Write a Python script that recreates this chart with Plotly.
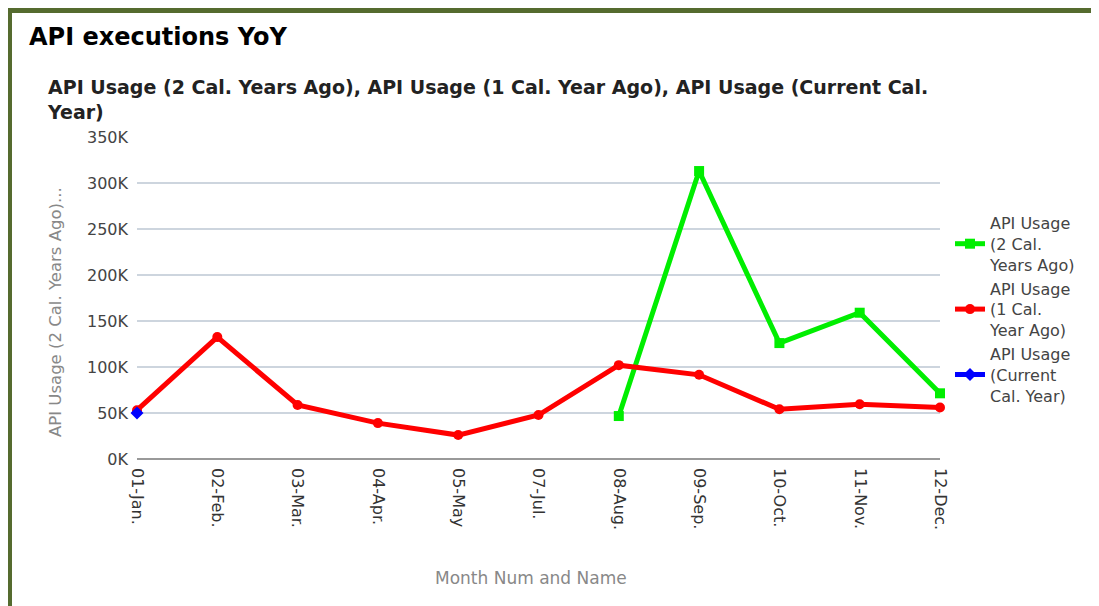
import plotly.graph_objects as go

months = ["01-Jan.", "02-Feb.", "03-Mar.", "04-Apr.", "05-May", "07-Jul.",
          "08-Aug.", "09-Sep.", "10-Oct.", "11-Nov.", "12-Dec."]
two_years_ago = [None, None, None, None, None, None, 46700, 313000, 126000, 159000, 71400]
one_year_ago = [53000, 132500, 58700, 39000, 26000, 47800, 102000, 91500, 54000, 59500, 56000]
current_year = [50000, None, None, None, None, None, None, None, None, None, None]
y_ticks = [0, 50000, 100000, 150000, 200000, 250000, 300000, 350000]
y_tick_labels = ["0K", "50K", "100K", "150K", "200K", "250K", "300K", "350K"]

# the page puts the figure 8px in from the top-left corner
OFF = 8
W, H = 1099 - OFF, 606 - OFF
L, R, T, B = 137 - OFF, 940 - OFF, 137 - OFF, 459 - OFF


def px(x):
    return (x - OFF - L) / (R - L)


def py(y):
    return (B - (y - OFF)) / (B - T)


font = "DejaVu Sans, Liberation Sans, Arial, sans-serif"

fig = go.Figure()
fig.add_trace(go.Scatter(
    x=months, y=two_years_ago, mode="lines+markers",
    name="API Usage<br>(2 Cal.<br>Years Ago)",
    line=dict(color="#00ee00", width=5),
    marker=dict(symbol="square", size=10, color="#00ee00"),
    cliponaxis=False))
fig.add_trace(go.Scatter(
    x=months, y=one_year_ago, mode="lines+markers",
    name="API Usage<br>(1 Cal.<br>Year Ago)",
    line=dict(color="#ff0000", width=5),
    marker=dict(symbol="circle", size=10, color="#ff0000"),
    cliponaxis=False))
fig.add_trace(go.Scatter(
    x=months, y=current_year, mode="lines+markers",
    name="API Usage<br>(Current<br>Cal. Year)",
    line=dict(color="#0000ff", width=5),
    marker=dict(symbol="diamond", size=10, color="#0000ff"),
    cliponaxis=False))

fig.update_layout(
    width=W, height=H,
    margin=dict(l=L, r=W - R, t=T, b=H - B),
    paper_bgcolor="white", plot_bgcolor="white",
    font=dict(family=font, size=15, color="#333333"),
    showlegend=True,
    legend=dict(x=px(950), y=py(206), xanchor="left", yanchor="top",
                font=dict(family=font, size=16, color="#444444"),
                tracegroupgap=0, itemwidth=30),
    xaxis=dict(type="category", range=[0, 10], tickangle=90,
               showgrid=False, zeroline=False, showline=False, ticks="",
               ticklabelstandoff=8,
               tickfont=dict(family=font, size=16, color="#333333")),
    yaxis=dict(range=[0, 350000], tickvals=y_ticks, ticktext=y_tick_labels,
               showgrid=True, gridcolor="#cdd5de", gridwidth=1.5,
               zeroline=True, zerolinecolor="#999999", zerolinewidth=1.5,
               showline=False, ticks="", ticklabelstandoff=8,
               tickfont=dict(family=font, size=16, color="#444444")),
)

fig.add_annotation(text="<b>API executions YoY</b>", xref="paper", yref="paper",
                   x=px(27), y=py(37), xanchor="left", yanchor="middle",
                   showarrow=False, font=dict(family=font, size=24, color="#000000"))
fig.add_annotation(text="<b>API Usage (2 Cal. Years Ago), API Usage (1 Cal. Year Ago), API Usage (Current Cal.<br>Year)</b>",
                   xref="paper", yref="paper", x=px(45), y=py(74), xanchor="left", yanchor="top",
                   align="left", showarrow=False,
                   font=dict(family=font, size=19, color="#222222"))
# axis titles
fig.add_annotation(text="API Usage (2 Cal. Years Ago)...", xref="paper", yref="paper",
                   x=px(55), y=py(312), xanchor="center", yanchor="middle",
                   textangle=-90, showarrow=False,
                   font=dict(family=font, size=16.5, color="#888888"))
fig.add_annotation(text="Month Num and Name", xref="paper", yref="paper",
                   x=px(531), y=py(578), xanchor="center", yanchor="middle",
                   showarrow=False,
                   font=dict(family=font, size=17, color="#888888"))

# card frame
fig.add_shape(type="path", xref="paper", yref="paper",
              path=f"M {px(9.5)},{py(620)} L {px(9.5)},{py(10.5)} L {px(1110)},{py(10.5)}",
              line=dict(color="#556b2f", width=5))

fig.write_html("out.html")
